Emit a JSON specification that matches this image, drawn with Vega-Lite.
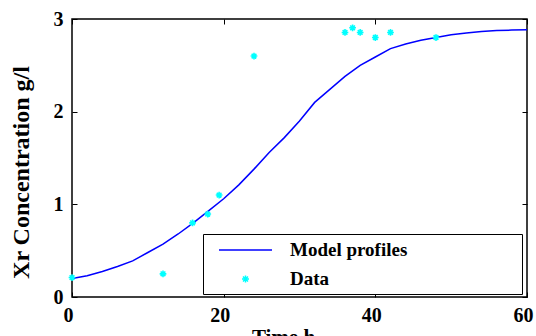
{
  "$schema": "https://vega.github.io/schema/vega-lite/v6.json",
  "width": 455,
  "height": 278,
  "autosize": {"type": "none"},
  "padding": {"left": 72, "top": 19, "right": 9, "bottom": 39},
  "background": "white",
  "config": {
    "view": {"stroke": "black", "strokeWidth": 1.5},
    "font": "Liberation Serif"
  },
  "datasets": {
    "model": [
      {"t": 0, "v": 0.2, "series": "Model profiles"},
      {"t": 2, "v": 0.23, "series": "Model profiles"},
      {"t": 4, "v": 0.275, "series": "Model profiles"},
      {"t": 6, "v": 0.33, "series": "Model profiles"},
      {"t": 8, "v": 0.39, "series": "Model profiles"},
      {"t": 10, "v": 0.48, "series": "Model profiles"},
      {"t": 12, "v": 0.57, "series": "Model profiles"},
      {"t": 14, "v": 0.68, "series": "Model profiles"},
      {"t": 16, "v": 0.8, "series": "Model profiles"},
      {"t": 18, "v": 0.93, "series": "Model profiles"},
      {"t": 20, "v": 1.06, "series": "Model profiles"},
      {"t": 22, "v": 1.21, "series": "Model profiles"},
      {"t": 24, "v": 1.38, "series": "Model profiles"},
      {"t": 26, "v": 1.56, "series": "Model profiles"},
      {"t": 28, "v": 1.72, "series": "Model profiles"},
      {"t": 30, "v": 1.9, "series": "Model profiles"},
      {"t": 32, "v": 2.1, "series": "Model profiles"},
      {"t": 34, "v": 2.24, "series": "Model profiles"},
      {"t": 36, "v": 2.38, "series": "Model profiles"},
      {"t": 38, "v": 2.5, "series": "Model profiles"},
      {"t": 40, "v": 2.59, "series": "Model profiles"},
      {"t": 42, "v": 2.68, "series": "Model profiles"},
      {"t": 44, "v": 2.73, "series": "Model profiles"},
      {"t": 46, "v": 2.77, "series": "Model profiles"},
      {"t": 48, "v": 2.8, "series": "Model profiles"},
      {"t": 50, "v": 2.83, "series": "Model profiles"},
      {"t": 52, "v": 2.85, "series": "Model profiles"},
      {"t": 54, "v": 2.865, "series": "Model profiles"},
      {"t": 56, "v": 2.875, "series": "Model profiles"},
      {"t": 58, "v": 2.88, "series": "Model profiles"},
      {"t": 60, "v": 2.885, "series": "Model profiles"}
    ],
    "obs": [
      {"t": 0, "v": 0.21, "series": "Data"},
      {"t": 12, "v": 0.25, "series": "Data"},
      {"t": 15.9, "v": 0.8, "series": "Data"},
      {"t": 17.9, "v": 0.895, "series": "Data"},
      {"t": 19.4, "v": 1.1, "series": "Data"},
      {"t": 24, "v": 2.6, "series": "Data"},
      {"t": 36, "v": 2.855, "series": "Data"},
      {"t": 37, "v": 2.905, "series": "Data"},
      {"t": 38, "v": 2.855, "series": "Data"},
      {"t": 40, "v": 2.8, "series": "Data"},
      {"t": 42, "v": 2.855, "series": "Data"},
      {"t": 48, "v": 2.8, "series": "Data"}
    ]
  },
  "resolve": {"axis": {"x": "independent", "y": "independent"}},
  "layer": [
    {
      "data": {"name": "model"},
      "mark": {"type": "line", "strokeWidth": 1.5, "clip": true},
      "encoding": {
        "x": {
          "field": "t", "type": "quantitative",
          "scale": {"domain": [0, 60], "nice": false, "zero": false},
          "axis": {
            "orient": "bottom", "values": [0, 20, 40, 60], "grid": false, "domain": false,
            "tickSize": -5, "tickColor": "black", "tickWidth": 1,
            "labelPadding": 13, "labelOffset": -4, "labelFont": "Liberation Serif", "labelFontSize": 20,
            "labelFontWeight": "bold", "labelColor": "black", "labelFlush": false,
            "title": "Time h", "titleFont": "Liberation Serif", "titleFontSize": 21, "titleFontWeight": "bold",
            "titleColor": "black", "titleX": 211, "titleY": 29, "titleBaseline": "top", "titleAlign": "center"
          }
        },
        "y": {
          "field": "v", "type": "quantitative",
          "scale": {"domain": [0, 3], "nice": false, "zero": false},
          "axis": {
            "orient": "left", "values": [0, 1, 2, 3], "grid": false, "domain": false,
            "tickSize": -5, "tickColor": "black", "tickWidth": 1,
            "labelPadding": 14, "labelFont": "Liberation Serif", "labelFontSize": 20,
            "labelFontWeight": "bold", "labelColor": "black", "labelFlush": false,
            "title": "Xr Concentration g/l", "titleFont": "Liberation Serif", "titleFontSize": 24,
            "titleFontWeight": "bold", "titleColor": "black", "titleX": -44, "titleY": 153,
            "titleBaseline": "alphabetic", "titleAlign": "center", "titleAngle": -90
          }
        },
        "color": {
          "field": "series", "type": "nominal",
          "scale": {"domain": ["Model profiles", "Data"], "range": ["#0000ff", "#00ffff"]},
          "legend": {
            "orient": "none", "legendX": 131, "legendY": 215, "title": null,
            "padding": 5, "strokeColor": "black", "fillColor": "white", "cornerRadius": 0,
            "symbolSize": 400, "symbolOffset": 26.5, "labelOffset": 33.5, "rowPadding": 8,
            "labelLimit": 600,
            "labelFont": "Liberation Serif", "labelFontSize": 19, "labelFontWeight": "bold", "labelColor": "black",
            "encode": {
              "symbols": {
                "update": {
                  "shape": {"signal": "datum.value === 'Data' ? 'M-0.35,0H0.35M0,-0.35V0.35M-0.25,-0.25L0.25,0.25M-0.25,0.25L0.25,-0.25' : 'M-2.65,0H2.65M26.8,0'"},
                  "strokeWidth": {"value": 1.5},
                  "fill": {"value": "transparent"}
                }
              }
            }
          }
        }
      }
    },
    {
      "data": {"name": "obs"},
      "mark": {
        "type": "point", "filled": false, "strokeWidth": 1.6, "size": 45, "opacity": 1,
        "shape": "M-1,0H1M0,-1V1M-0.7,-0.7L0.7,0.7M-0.7,0.7L0.7,-0.7"
      },
      "encoding": {
        "x": {
          "field": "t", "type": "quantitative",
          "axis": {
            "orient": "top", "values": [0, 20, 40, 60], "grid": false, "domain": false,
            "tickSize": -5, "tickColor": "black", "tickWidth": 1, "labels": false, "title": null
          }
        },
        "y": {
          "field": "v", "type": "quantitative",
          "axis": {
            "orient": "right", "values": [0, 1, 2, 3], "grid": false, "domain": false,
            "tickSize": -5, "tickColor": "black", "tickWidth": 1, "labels": false, "title": null
          }
        },
        "color": {
          "field": "series", "type": "nominal",
          "scale": {"domain": ["Model profiles", "Data"], "range": ["#0000ff", "#00ffff"]}
        }
      }
    }
  ]
}
